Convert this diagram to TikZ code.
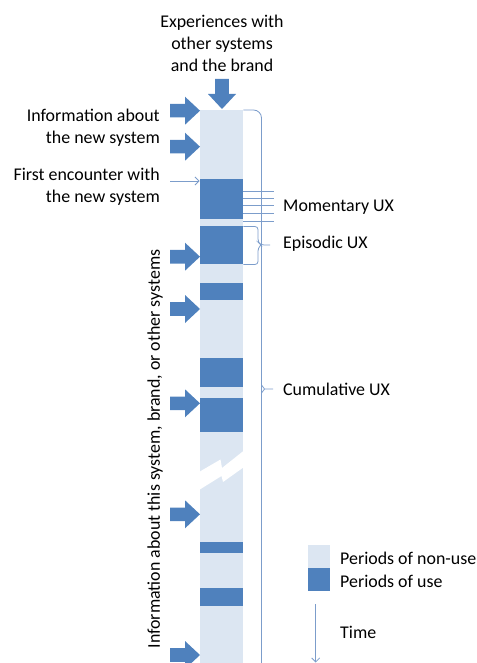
\documentclass[tikz,border=0pt]{standalone}
\usepackage{fontspec}
\setmainfont{Carlito}
\usetikzlibrary{arrows.meta}
\definecolor{usecol}{HTML}{4F81BD}
\definecolor{nonuse}{HTML}{DCE6F2}
\definecolor{thinline}{HTML}{7C9DCB}
\begin{document}
\begin{tikzpicture}[x=1pt,y=-1pt,
  lbl/.style={font=\fontsize{17.9}{21.7}\selectfont, inner sep=0pt},
  usebox/.style={fill=usecol, draw=none},
  thinln/.style={draw=thinline, line width=0.8pt},
  fatarrow/.pic={\fill[usecol] (-30,-6.8) -- (-15,-6.8) -- (-15,-14) -- (0,0) -- (-15,14) -- (-15,6.8) -- (-30,6.8) -- cycle;}]
\useasboundingbox (0,0) rectangle (476,663);
% column
\fill[nonuse] (200,110) rectangle (243.3,663);
\foreach \a/\b in {179.3/219.3, 225.7/264.3, 283.3/300, 358.3/386.7, 398.3/432.3, 541.7/553.3, 588.3/605.7}
  \fill[usecol] (200,\a) rectangle (243.3,\b);
% break
\fill[white] (199,472) -- (220.5,459.5) -- (222,468) -- (244,450.5) -- (244,467) -- (223,482) -- (221.5,476) -- (199,490) -- cycle;
% top arrow
\pic[rotate=-90] at (222,109) {fatarrow};
\node[lbl, align=center] (exp) at (222,43.5) {Experiences with\\other systems\\and the brand};
% left arrows
\foreach \yy in {110.7,146.7,256.7,309,403.3,514.3,655}
  \pic at (200,\yy) {fatarrow};
\node[lbl, align=right, anchor=east] (info) at (160,127.5) {Information about\\the new system};
\node[lbl, align=right, anchor=east] (first) at (160,186.5) {First encounter with\\the new system};
\coordinate (fs) at (170,181);
\coordinate (fe) at (199.5,181);
\draw[thinln, -{Straight Barb[length=4pt,width=8pt]}] (fs) -- (fe);
\node[lbl, rotate=90] (rot) at (155,449) {Information about this system, brand, or other systems};
% momentary lines
\foreach \yy in {191.7,198.3,205.7,213.3,221}
  \draw[thinln] (243.3,\yy) -- (274,\yy);
\node[lbl, anchor=west] (mom) at (283,207) {Momentary UX};
% episodic brace
\draw[thinln, rounded corners=3pt] (243.3,226.5) -- (258,226.5) -- (258,242) -- (261,245) -- (270,245);
\draw[thinln, rounded corners=3pt] (243.3,264.5) -- (258,264.5) -- (258,248) -- (261,245);
\node[lbl, anchor=west] (epi) at (283,244) {Episodic UX};
% cumulative brace
\draw[thinln, rounded corners=8pt] (243.3,110) -- (261.5,110) -- (261.5,663);
\draw[thinln] (261.5,385) -- (264.5,389) -- (273,389);
\draw[thinln] (261.5,393) -- (264.5,389);
\node[lbl, anchor=west] (cum) at (283,389) {Cumulative UX};
% legend
\fill[nonuse] (307.7,545) rectangle (330,567.7);
\fill[usecol] (307.7,567.7) rectangle (330,591);
\node[lbl, anchor=west] (lnon) at (340,558.5) {Periods of non-use};
\node[lbl, anchor=west] (luse) at (340,581) {Periods of use};
\coordinate (ts) at (315.7,604);
\coordinate (te) at (315.7,662.5);
\draw[thinln, -{Straight Barb[length=4pt,width=8pt]}] (ts) -- (te);
\node[lbl, anchor=west] (time) at (340,632.5) {Time};
\end{tikzpicture}
\end{document}
